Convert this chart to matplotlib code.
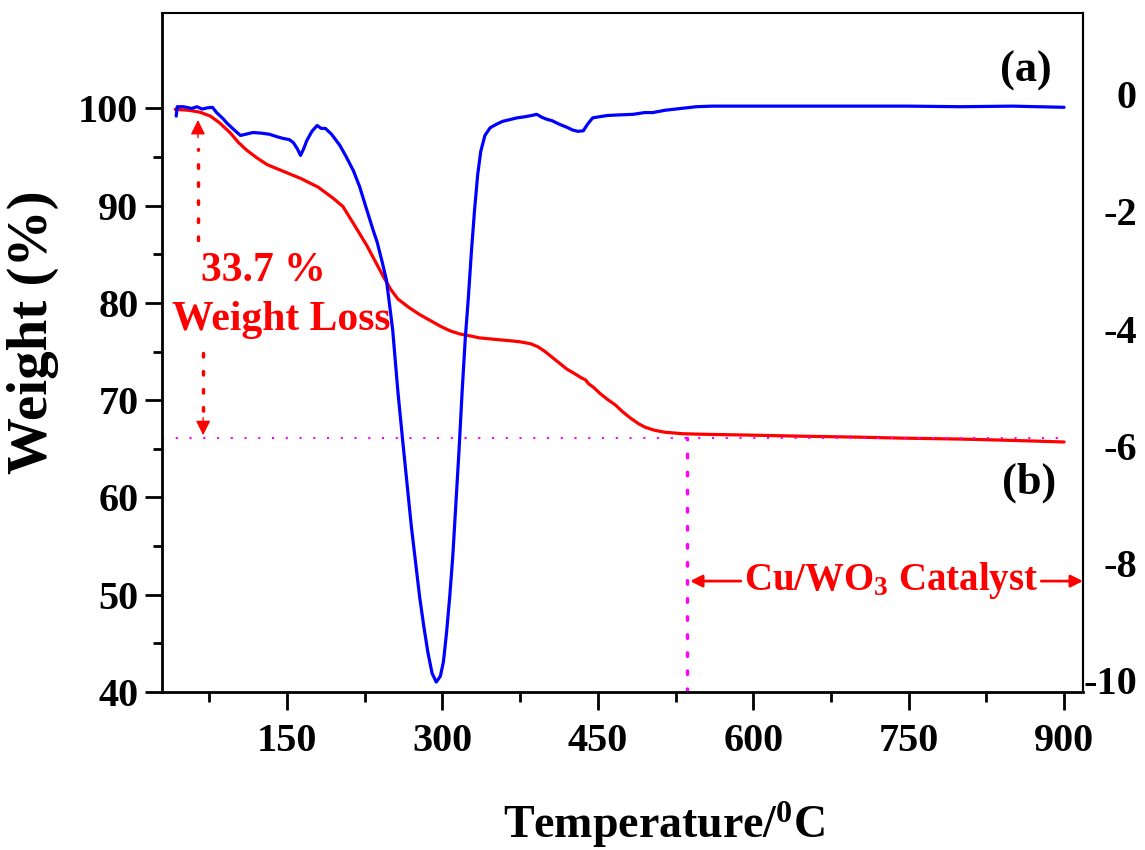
import matplotlib
matplotlib.use("Agg")
import matplotlib.pyplot as plt
from matplotlib.ticker import FixedLocator

plt.rcParams['font.family'] = ['Liberation Serif', 'DejaVu Serif']
plt.rcParams['font.weight'] = 'bold'
plt.rcParams['axes.unicode_minus'] = False
plt.rcParams['mathtext.fontset'] = 'custom'
plt.rcParams['mathtext.rm'] = 'Liberation Serif:bold'
plt.rcParams['mathtext.it'] = 'Liberation Serif:bold'
plt.rcParams['mathtext.bf'] = 'Liberation Serif:bold'

# ---- TGA curve (weight %) ----
tga_temp = [42, 55, 66, 76, 85, 95, 103, 111, 121, 131, 147, 163, 180, 194, 204,
            215, 227, 235, 243, 250, 257, 268, 278, 288, 298, 308, 317, 327, 336,
            346, 356, 366, 375, 385, 392, 399, 406, 413, 420, 428, 434, 438, 441,
            446, 452, 459, 467, 474, 481, 489, 496, 505, 515, 532, 549, 600, 645,
            700, 742, 800, 838, 870, 900]
tga_weight = [99.9, 99.8, 99.6, 99.2, 98.5, 97.5, 96.5, 95.7, 94.9, 94.2, 93.5, 92.8,
              91.9, 90.8, 89.9, 88.0, 85.9, 84.3, 82.7, 81.4, 80.4, 79.5, 78.8, 78.2,
              77.6, 77.1, 76.8, 76.6, 76.4, 76.3, 76.2, 76.1, 76.0, 75.8, 75.5, 75.0,
              74.4, 73.8, 73.2, 72.7, 72.3, 72.1, 71.7, 71.3, 70.7, 70.1, 69.5, 68.8,
              68.2, 67.6, 67.2, 66.9, 66.7, 66.55, 66.5, 66.4, 66.3, 66.2, 66.1, 66.0,
              65.9, 65.8, 65.7]

# ---- DTG curve ----
dtg_temp = [43, 44, 50, 58, 63, 68, 73, 78, 82, 88, 92, 98, 105, 110, 117, 125, 133,
            140, 146, 152, 156, 160, 163, 166, 169, 174, 179, 183, 187, 193, 201, 207,
            214, 220, 227, 233, 237, 242, 246, 252, 257, 262, 266, 270, 274, 278, 282,
            286, 290, 294, 298, 301, 304, 307, 310, 313, 316, 319, 322, 325, 328, 331,
            334, 337, 341, 346, 352, 358, 365, 372, 380, 386, 391, 396, 400, 406, 413,
            420, 426, 431, 436, 440, 445, 452, 459, 470, 484, 495, 503, 515, 530, 545,
            560, 600, 650, 700, 750, 800, 850, 900]
dtg_value = [-0.30, -0.14, -0.14, -0.17, -0.14, -0.18, -0.16, -0.15, -0.24, -0.34,
             -0.42, -0.52, -0.63, -0.61, -0.58, -0.59, -0.61, -0.65, -0.68, -0.70,
             -0.75, -0.86, -0.97, -0.86, -0.72, -0.56, -0.46, -0.51, -0.51, -0.61,
             -0.80, -0.99, -1.23, -1.50, -1.90, -2.24, -2.45, -2.80, -3.10, -3.95,
             -5.00, -5.90, -6.60, -7.30, -7.90, -8.50, -9.00, -9.45, -9.80, -9.95,
             -9.85, -9.60, -9.10, -8.50, -7.80, -6.90, -6.00, -5.00, -4.10, -3.40,
             -2.60, -1.90, -1.30, -0.90, -0.63, -0.50, -0.44, -0.39, -0.36, -0.33,
             -0.31, -0.29, -0.27, -0.32, -0.35, -0.38, -0.44, -0.49, -0.54, -0.56,
             -0.55, -0.44, -0.33, -0.31, -0.29, -0.28, -0.27, -0.24, -0.24, -0.20,
             -0.17, -0.14, -0.13, -0.13, -0.13, -0.13, -0.13, -0.14, -0.13, -0.15]

x_major = [150, 300, 450, 600, 750, 900]
x_minor = [75, 225, 375, 525, 675, 825]
y_left_major = [40, 50, 60, 70, 80, 90, 100]
y_left_minor = [45, 55, 65, 75, 85, 95]
y_right_major = [0, -2, -4, -6, -8, -10]
y_right_labels = ['0', '-2', '-4', '-6', '-8', '-10']

residual_weight = 66.1
end_temp = 536

fig = plt.figure(figsize=(11.45, 8.5), dpi=100)
ax = fig.add_axes([162/1145, 1-692/850, (1083-162)/1145, (692-13)/850])
ax2 = ax.twinx()

ax.plot(tga_temp, tga_weight, color='#ff0000', lw=2.3, solid_capstyle='round')
ax2.plot(dtg_temp, dtg_value, color='#0000ff', lw=2.3, solid_capstyle='round')

ax.set_xlim(29.3, 918.3)
ax.set_ylim(40, 109.8)
ax2.set_ylim(-10.12, 1.458)

ax.xaxis.set_major_locator(FixedLocator(x_major))
ax.xaxis.set_minor_locator(FixedLocator(x_minor))
ax.yaxis.set_major_locator(FixedLocator(y_left_major))
ax.yaxis.set_minor_locator(FixedLocator(y_left_minor))
ax2.yaxis.set_major_locator(FixedLocator(y_right_major))

ax.tick_params(axis='x', which='major', direction='out', length=13, width=2, pad=9, labelsize=29)
ax.tick_params(axis='x', which='minor', direction='out', length=7, width=2)
ax.tick_params(axis='y', which='major', direction='out', length=12, width=2, pad=5, labelsize=29)
ax.tick_params(axis='y', which='minor', direction='out', length=6.5, width=2)
ax.tick_params(top=False, right=False)
ax2.tick_params(axis='y', which='both', length=0, labelright=False)

# right-axis labels, right-aligned as in the original software
ytrans = ax2.get_yaxis_transform()
for val, lab in zip(y_right_major, y_right_labels):
    ax2.text(1 + 54/921, val, lab, transform=ytrans, ha='right', va='center',
             fontsize=29, clip_on=False)

for s in ['bottom', 'left']:
    ax.spines[s].set_linewidth(2)
for s in ['top', 'right']:
    ax.spines[s].set_linewidth(1.5)
for s in ['left', 'top', 'bottom']:
    ax2.spines[s].set_visible(False)
ax2.spines['right'].set_linewidth(1.5)

# magenta dotted guide lines
ax.plot([29.3, 900], [residual_weight, residual_weight], color='#ff00ff', lw=1.5,
        ls=(0, (1, 5.6)))
ax.plot([end_temp, end_temp], [40, residual_weight], color='#ff00ff', lw=2.5,
        ls=(0, (1, 4.2)), dash_capstyle='round')

# red dotted double arrow (weight loss)
ax.plot([64, 64], [86.5, 95.8], color='red', lw=2.5, ls=(0, (1, 4.2)), dash_capstyle='round')
ax.annotate('', xy=(64, 98.8), xytext=(64, 97.0),
            arrowprops=dict(arrowstyle='-|>', color='red', lw=1, mutation_scale=22,
                            shrinkA=0, shrinkB=0))
ax.plot([69, 69], [74.9, 68.6], color='red', lw=2.5, ls=(0, (1, 4.2)), dash_capstyle='round')
ax.annotate('', xy=(69, 66.4), xytext=(69, 68.2),
            arrowprops=dict(arrowstyle='-|>', color='red', lw=1, mutation_scale=22,
                            shrinkA=0, shrinkB=0))

ax.text(126.8, 82.3, '33.7 %', color='red', fontsize=30, ha='center', va='baseline')
ax.text(144.2, 77.2, 'Weight Loss', color='red', fontsize=30, ha='center', va='baseline')

ax.text(863.3, 103.9, '(a)', color='black', fontsize=32, ha='center', va='center')
ax.text(866.2, 61.5, '(b)', color='black', fontsize=32, ha='center', va='center')

# catalyst label with arrows
ax.text(733, 50.5, 'Cu/WO$_3$ Catalyst', color='red', fontsize=28, ha='center', va='baseline')
ax.annotate('', xy=(539, 51.4), xytext=(588, 51.4),
            arrowprops=dict(arrowstyle='-|>', color='red', lw=2, mutation_scale=18,
                            shrinkA=0, shrinkB=0))
ax.annotate('', xy=(918.3, 51.4), xytext=(878, 51.4),
            arrowprops=dict(arrowstyle='-|>', color='red', lw=2, mutation_scale=18,
                            shrinkA=0, shrinkB=0))

fig.text(664/1145, 1-838/850, 'Temperature/$^{0}$C', ha='center', va='baseline', fontsize=33)
fig.text(33/1145, 1-332/850, 'Weight (%)', rotation=90, ha='center', va='center', fontsize=41)

fig.savefig('out.png', dpi=100)
